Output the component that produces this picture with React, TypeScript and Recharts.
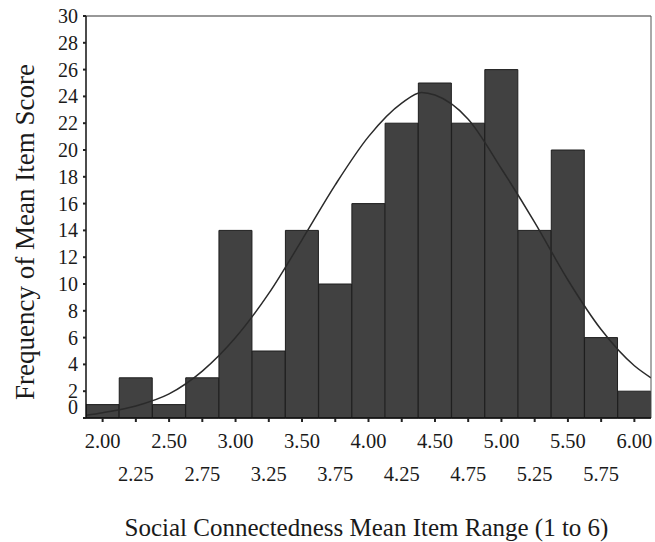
import React from 'react';
import { ComposedChart, Bar, Line, XAxis, YAxis, ReferenceLine } from 'recharts';

const binCenters = [2.0, 2.25, 2.5, 2.75, 3.0, 3.25, 3.5, 3.75, 4.0, 4.25, 4.5, 4.75, 5.0, 5.25, 5.5, 5.75, 6.0];
const binCounts = [1, 3, 1, 3, 14, 5, 14, 10, 16, 22, 25, 22, 26, 14, 20, 6, 2];

const curveX = [1.875, 2.0, 2.25, 2.5, 2.75, 3.0, 3.25, 3.5, 3.75, 4.0, 4.25, 4.4, 4.5, 4.75, 5.0, 5.25, 5.5, 5.75, 6.0, 6.125];
const curveY = [0.2, 0.4, 0.9, 1.8, 3.5, 6.0, 9.3, 13.3, 17.4, 21.0, 23.5, 24.3, 24.1, 22.3, 18.6, 14.6, 10.3, 6.6, 3.9, 3.0];

const xDomain = [1.875, 6.125];
const xTicks = binCenters;
const yTicks = [0, 2, 4, 6, 8, 10, 12, 14, 16, 18, 20, 22, 24, 26, 28, 30];

const xTitle = 'Social Connectedness Mean Item Range (1 to 6)';
const yTitle = 'Frequency of Mean Item Score';

const barData = binCenters.map((x, i) => ({ x, count: binCounts[i] }));
const curveData = curveX.map((x, i) => ({ x, y: curveY[i] }));

const FONT = "'Liberation Serif', 'DejaVu Serif', serif";
const TEXT = '#1a1a1a';

const XTick = (props: any) => {
  const { x, y, payload } = props;
  const v = payload.value as number;
  const row = Math.round((v - 2) / 0.25) % 2;
  return (
    <text
      x={x}
      y={y + (row ? 52 : 19)}
      textAnchor="middle"
      dominantBaseline="central"
      fontFamily={FONT}
      fontSize={20.5}
      fill={TEXT}
    >
      {v.toFixed(2)}
    </text>
  );
};

const YTick = (props: any) => {
  const { x, y, payload } = props;
  const v = payload.value as number;
  return (
    <text
      x={x}
      y={v === 0 ? y - 11 : y}
      textAnchor="end"
      dominantBaseline="central"
      fontFamily={FONT}
      fontSize={20}
      fill={TEXT}
    >
      {v}
    </text>
  );
};

const YLabel = () => {
  const cx = 25;
  const cy = 232;
  return (
    <text
      x={cx}
      y={cy}
      transform={`rotate(-90, ${cx}, ${cy})`}
      textAnchor="middle"
      dominantBaseline="central"
      fontFamily={FONT}
      fontSize={27}
      fill={TEXT}
    >
      {yTitle}
    </text>
  );
};

const XLabel = (props: any) => {
  const { viewBox } = props;
  const cx = viewBox.x + viewBox.width / 2 - 2;
  const cy = 536;
  return (
    <text
      x={cx}
      y={cy}
      textAnchor="middle"
      fontFamily={FONT}
      fontSize={25}
      fill={TEXT}
    >
      {xTitle}
    </text>
  );
};

export default function App() {
  return (
    <div style={{ position: 'absolute', left: 0, top: 0, width: 655, height: 542, background: '#fff' }}>
      <ComposedChart
        width={655}
        height={542}
        data={barData}
        margin={{ top: 16, right: 4, bottom: 0, left: 0 }}
        barCategoryGap={0}
        barGap={0}
      >
        <XAxis
          xAxisId="bin"
          dataKey="x"
          type="number"
          domain={xDomain}
          ticks={xTicks}
          interval={0}
          height={124}
          tick={<XTick />}
          tickSize={4}
          tickMargin={0}
          tickLine={{ stroke: '#222', strokeWidth: 2 }}
          axisLine={{ stroke: '#111', strokeWidth: 1.5 }}
          allowDataOverflow
          label={<XLabel />}
        />
        <XAxis
          xAxisId="curve"
          dataKey="x"
          type="number"
          domain={xDomain}
          hide
          allowDataOverflow
        />
        <YAxis
          type="number"
          domain={[0, 30]}
          ticks={yTicks}
          interval={0}
          width={86}
          tick={<YTick />}
          tickSize={3}
          tickMargin={5}
          tickLine={{ stroke: '#222', strokeWidth: 2 }}
          axisLine={{ stroke: '#111', strokeWidth: 1.5 }}
          label={<YLabel />}
        />
        <Bar
          xAxisId="bin"
          dataKey="count"
          fill="#414141"
          stroke="#1e1e1e"
          strokeWidth={1}
          isAnimationActive={false}
        />
        <Line
          xAxisId="curve"
          data={curveData}
          dataKey="y"
          type="monotone"
          stroke="#2a2a2a"
          strokeWidth={1.5}
          dot={false}
          activeDot={false}
          isAnimationActive={false}
        />
        <ReferenceLine xAxisId="bin" y={30} stroke="#333" strokeWidth={1.2} />
        <ReferenceLine xAxisId="bin" x={6.125} stroke="#555" strokeWidth={1} />
      </ComposedChart>
    </div>
  );
}
